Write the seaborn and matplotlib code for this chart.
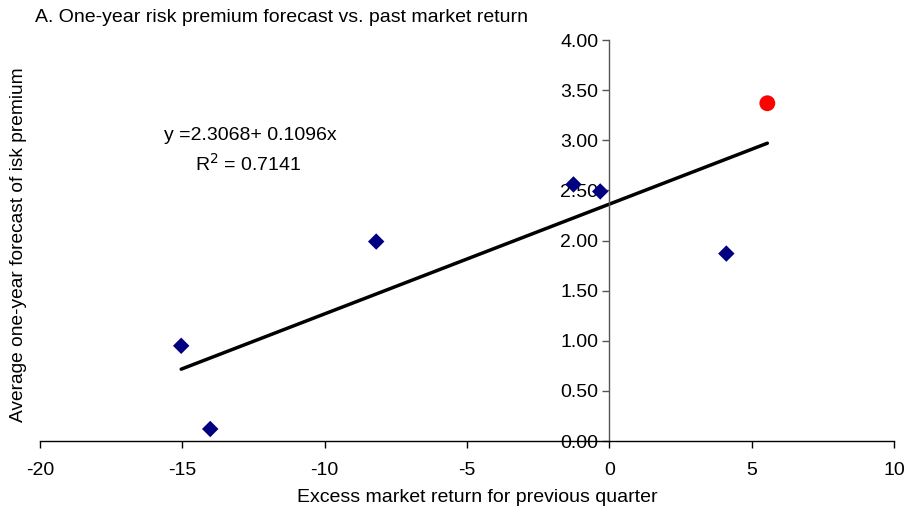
import numpy as np
import pandas as pd
import matplotlib
matplotlib.use("Agg")
import matplotlib.pyplot as plt
import seaborn as sns

# Data
past_return = [-15.04, -14.02, -8.19, -1.26, -0.32, 4.11]
risk_premium = [0.95, 0.12, 1.99, 2.56, 2.49, 1.87]
latest_return = [5.55]
latest_premium = [3.37]

xticks = [-20, -15, -10, -5, 0, 5, 10]
yticks = [0.0, 0.5, 1.0, 1.5, 2.0, 2.5, 3.0, 3.5, 4.0]

sns.set_theme(style="white")
plt.rcParams['font.family'] = ['Liberation Sans', 'DejaVu Sans']
plt.rcParams['text.color'] = 'black'
plt.rcParams['axes.labelcolor'] = 'black'

df = pd.DataFrame({"x": past_return, "y": risk_premium})
df_new = pd.DataFrame({"x": latest_return, "y": latest_premium})
df_all = pd.concat([df, df_new], ignore_index=True)

fig = plt.figure(figsize=(9.09, 5.14), dpi=100)
ax = fig.add_axes([0.044, 0.142, 0.9395, 0.78])

FS = 14

sns.regplot(data=df_all, x="x", y="y", scatter=False, ci=None, truncate=True,
            line_kws=dict(color="black", lw=2.5), ax=ax)
sns.scatterplot(data=df, x="x", y="y", marker="D", s=70, color="#000080",
                edgecolor="none", ax=ax, zorder=3)
sns.scatterplot(data=df_new, x="x", y="y", marker="o", s=130, color="#ff0000",
                edgecolor="none", ax=ax, zorder=3)

ax.set_xlim(-20, 10)
ax.set_ylim(0, 4)
ax.set_xticks(xticks)
ax.set_xticklabels([str(t) for t in xticks])
ax.set_yticks(yticks)
ax.set_yticklabels([f"{t:.2f}" for t in yticks])

ax.spines['left'].set_position(('data', 0))
ax.spines['bottom'].set_position(('data', 0))
ax.spines['right'].set_visible(False)
ax.spines['top'].set_visible(False)
ax.spines['left'].set_color("#555555")
ax.spines['bottom'].set_color("black")
for s in ['left', 'bottom']:
    ax.spines[s].set_linewidth(1.0)

ax.tick_params(axis='both', which='major', direction='out', length=5, width=1,
               labelsize=FS, labelcolor='black', color='black', left=True, bottom=True)
ax.tick_params(axis='x', pad=10)
ax.tick_params(axis='y', pad=3, color="#555555")

ax.set_xlabel("Excess market return for previous quarter", fontsize=FS, color='black')
ax.set_ylabel("")
ax.xaxis.set_label_coords(0.512, -0.12)
fig.text(0.02, 1 - 245 / 514, "Average one-year forecast of isk premium", rotation=90,
         ha='center', va='center', fontsize=13.8, color='black')

fig.text(35 / 909, 1 - 18 / 514, "A. One-year risk premium forecast vs. past market return",
         ha='left', va='center', fontsize=FS, color='black')

ax.text(-12.6, 3.05, "y =2.3068+ 0.1096x", ha='center', va='center', fontsize=FS, color='black')
ax.text(-12.7, 2.77, "R$^2$ = 0.7141", ha='center', va='center', fontsize=FS, color='black')

fig.savefig("out.png", dpi=100)
